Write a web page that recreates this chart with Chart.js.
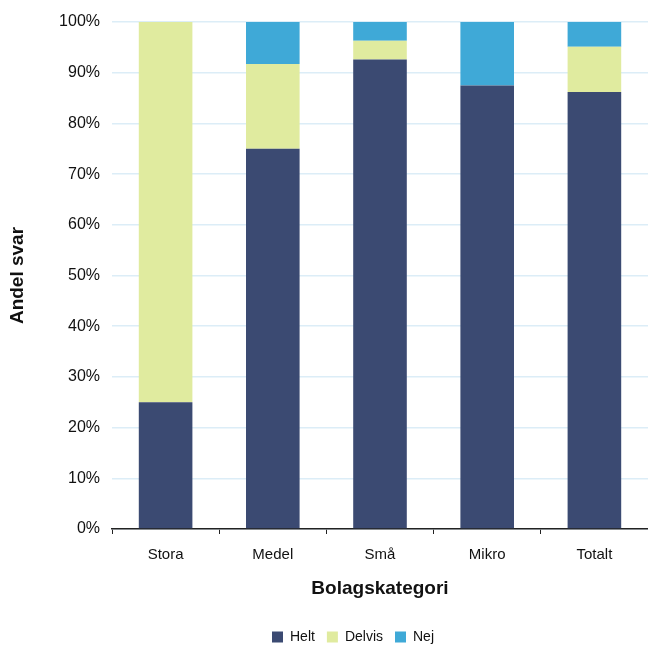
<!DOCTYPE html>
<html>
<head>
<meta charset="utf-8">
<script src="https://cdn.jsdelivr.net/npm/chart.js@4"></script>
<style>
  html, body { margin: 0; padding: 0; background: #fff; }
  #wrap { width: 648px; height: 646px; }
</style>
</head>
<body>
<div id="wrap"><canvas id="chart"></canvas></div>
<script>
const categories = ['Stora', 'Medel', 'Små', 'Mikro', 'Totalt'];
const helt = [25, 75, 92.6, 87.5, 86.2];
const delvis = [75, 16.7, 3.7, 0, 8.9];
const nej = [0, 8.3, 3.7, 12.5, 4.9];
const yTicks = [0, 10, 20, 30, 40, 50, 60, 70, 80, 90, 100];

const font = 'Liberation Sans, Arial, sans-serif';

// nudge the legend a little right, like the original
const legendShift = {
    id: 'legendShift',
    afterLayout(chart) {
        chart.legend.left += 29;
        chart.legend.right += 29;
    }
};

new Chart(document.getElementById('chart'), {
    type: 'bar',
    data: {
        labels: categories,
        datasets: [
            { label: 'Helt', data: helt, backgroundColor: '#3b4a72' },
            { label: 'Delvis', data: delvis, backgroundColor: '#e0eb9f' },
            { label: 'Nej', data: nej, backgroundColor: '#3fa9d7' }
        ]
    },
    plugins: [legendShift],
    options: {
        responsive: true,
        maintainAspectRatio: false,
        animation: false,
        barPercentage: 0.5,
        categoryPercentage: 1.0,
        layout: { padding: { top: 22, right: 0, left: 0, bottom: -8 } },
        plugins: {
            tooltip: { enabled: false },
            legend: {
                position: 'bottom',
                labels: {
                    boxWidth: 11,
                    boxHeight: 11,
                    padding: 12,
                    color: '#111',
                    font: { family: font, size: 14 }
                }
            }
        },
        scales: {
            x: {
                stacked: true,
                afterFit: s => { s.height = 89; },
                border: { display: true, color: '#222', width: 1.5 },
                grid: { drawOnChartArea: false, drawTicks: true, tickLength: 5, color: '#222', offset: true },
                ticks: { color: '#111', padding: 12, font: { family: font, size: 15 } },
                title: {
                    display: true,
                    text: 'Bolagskategori',
                    color: '#111',
                    padding: { top: 4, bottom: 18 },
                    font: { family: font, size: 19, weight: 'bold' }
                }
            },
            y: {
                stacked: true,
                min: 0,
                max: 100,
                afterFit: s => { s.width = 112; },
                afterBuildTicks: s => { s.ticks = yTicks.map(v => ({ value: v })); },
                border: { display: false },
                grid: { color: '#dcedf7', lineWidth: 1.5, drawTicks: false },
                ticks: {
                    color: '#111',
                    padding: 12,
                    font: { family: font, size: 16 },
                    callback: v => v + '%'
                },
                title: {
                    display: true,
                    text: 'Andel svar',
                    color: '#111',
                    padding: { top: 6, bottom: 0 },
                    font: { family: font, size: 19, weight: 'bold' }
                }
            }
        }
    }
});
</script>
</body>
</html>
